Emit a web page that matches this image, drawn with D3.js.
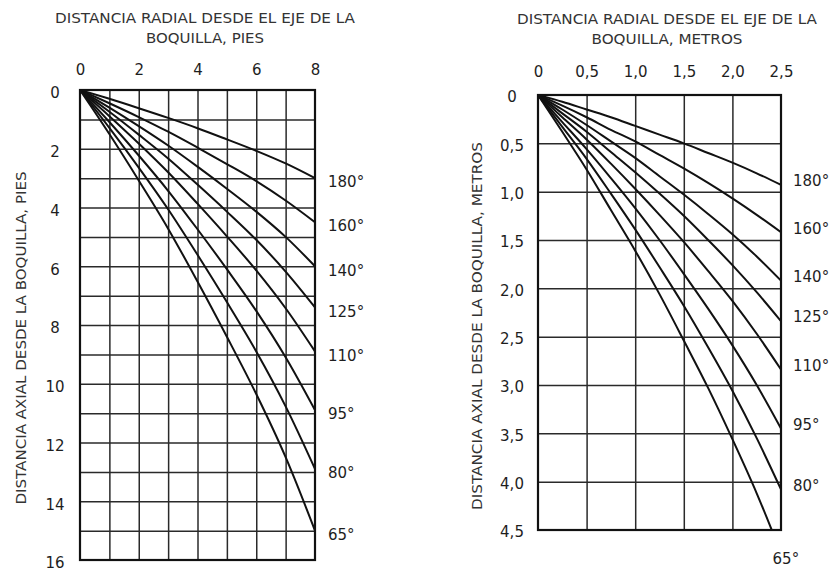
<!DOCTYPE html>
<html>
<head>
  <meta charset="utf-8">
  <title>Distancia radial / axial boquilla</title>
  <script src="https://cdn.jsdelivr.net/npm/d3@7"></script>
  <style>
    body { margin: 0; background: #ffffff; }
    svg { font-family: "DejaVu Sans", "Liberation Sans", sans-serif; }
    .title { fill: #333; font-size: 14px; text-anchor: middle; }
    .tick text { fill: #1e1e1e; font-size: 15px; }
    .angle { fill: #1e1e1e; font-size: 15px; }
    .grid line { stroke: #2a2a2a; stroke-width: 1.5; }
    .grid path { display: none; }
    .frame { fill: none; stroke: #111; stroke-width: 2.2; }
    .curve { fill: none; stroke: #111; stroke-width: 2; }
  </style>
</head>
<body>
<script>
// angles of the spray, same order for both charts
var angles = ["180°", "160°", "140°", "125°", "110°", "95°", "80°", "65°"];

// chart in feet: axial distance read at each radial foot
var ftRadial = [0, 1, 2, 3, 4, 5, 6, 7, 8];
var ft180 = [0, 0.30, 0.62, 0.95, 1.30, 1.68, 2.07, 2.50, 3.0];
var ft160 = [0, 0.45, 0.92, 1.42, 1.96, 2.52, 3.10, 3.76, 4.5];
var ft140 = [0, 0.60, 1.23, 1.89, 2.61, 3.36, 4.14, 5.00, 6.0];
var ft125 = [0, 0.74, 1.52, 2.33, 3.22, 4.14, 5.10, 6.18, 7.4];
var ft110 = [0, 0.89, 1.82, 2.80, 3.87, 4.98, 6.14, 7.43, 8.9];
var ft95  = [0, 1.09, 2.23, 3.43, 4.74, 6.10, 7.52, 9.10, 10.9];
var ft80  = [0, 1.29, 2.64, 4.06, 5.61, 7.22, 8.90, 10.77, 12.9];
var ft65  = [0, 1.50, 3.08, 4.72, 6.52, 8.40, 10.35, 12.50, 15.0];
var ftXTicks = [0, 2, 4, 6, 8];
var ftYTicks = [0, 2, 4, 6, 8, 10, 12, 14, 16];
var ftXGrid = [1, 2, 3, 4, 5, 6, 7];
var ftYGrid = [1, 2, 3, 4, 5, 6, 7, 8, 9, 10, 11, 12, 13, 14, 15];

// chart in metres
var mRadial = [0, 0.25, 0.5, 0.75, 1.0, 1.25, 1.5, 1.75, 2.0, 2.25, 2.5];
var m180 = [0, 0.07, 0.15, 0.23, 0.32, 0.41, 0.50, 0.60, 0.70, 0.81, 0.93];
var m160 = [0, 0.11, 0.23, 0.36, 0.48, 0.62, 0.76, 0.91, 1.07, 1.24, 1.42];
var m140 = [0, 0.15, 0.31, 0.48, 0.65, 0.84, 1.03, 1.23, 1.44, 1.67, 1.92];
var m125 = [0, 0.19, 0.38, 0.59, 0.80, 1.02, 1.25, 1.50, 1.76, 2.04, 2.34];
var m110 = [0, 0.23, 0.46, 0.71, 0.97, 1.24, 1.52, 1.82, 2.13, 2.47, 2.84];
var m95  = [0, 0.28, 0.56, 0.86, 1.17, 1.50, 1.85, 2.21, 2.59, 3.00, 3.45];
var m80  = [0, 0.33, 0.66, 1.02, 1.39, 1.78, 2.18, 2.61, 3.06, 3.55, 4.08];
var m65  = [0, 0.38, 0.77, 1.19, 1.61, 2.06, 2.54, 3.03, 3.56, 4.12, 4.74];
var mXTicks = [0, 0.5, 1.0, 1.5, 2.0, 2.5];
var mYTicks = [0, 0.5, 1.0, 1.5, 2.0, 2.5, 3.0, 3.5, 4.0, 4.5];
var mXGrid = [0.5, 1.0, 1.5, 2.0];
var mYGrid = [0.5, 1.0, 1.5, 2.0, 2.5, 3.0, 3.5, 4.0];

var svg = d3.select("body").append("svg")
    .attr("width", 834)
    .attr("height", 571);

function comma(d) {
  return d === 0 ? "0" : d3.format(".1f")(d).replace(".", ",");
}

function drawChart(opt) {
  var x = d3.scaleLinear().domain(opt.xDomain).range([opt.left, opt.right]);
  var y = d3.scaleLinear().domain(opt.yDomain).range([opt.top, opt.bottom]);
  var g = svg.append("g");

  // titles
  g.append("text").attr("class", "title")
      .attr("x", opt.titleX).attr("y", opt.titleY1)
      .attr("textLength", opt.titleW1).attr("lengthAdjust", "spacingAndGlyphs")
      .text("DISTANCIA RADIAL DESDE EL EJE DE LA");
  g.append("text").attr("class", "title")
      .attr("x", opt.titleX).attr("y", opt.titleY2)
      .attr("textLength", opt.titleW2).attr("lengthAdjust", "spacingAndGlyphs")
      .text(opt.title2);
  g.append("text").attr("class", "title")
      .attr("transform", "translate(" + opt.yTitleX + "," + opt.yTitleY + ") rotate(-90)")
      .attr("textLength", opt.yTitleW).attr("lengthAdjust", "spacingAndGlyphs")
      .attr("dy", "0.35em")
      .text(opt.yTitle);

  // grid
  g.append("g").attr("class", "grid")
      .attr("transform", "translate(0," + opt.bottom + ")")
      .call(d3.axisBottom(x).tickValues(opt.xGrid).tickSize(-(opt.bottom - opt.top)).tickFormat(""));
  g.append("g").attr("class", "grid")
      .attr("transform", "translate(" + opt.left + ",0)")
      .call(d3.axisLeft(y).tickValues(opt.yGrid).tickSize(-(opt.right - opt.left)).tickFormat(""));

  // tick labels
  var xa = g.append("g")
      .attr("transform", "translate(0," + opt.xLabelY + ")")
      .call(d3.axisTop(x).tickValues(opt.xTicks).tickSize(0).tickPadding(0).tickFormat(opt.fmt));
  xa.select(".domain").remove();
  xa.attr("font-family", null).attr("font-size", null);

  var ya = g.append("g")
      .attr("transform", "translate(" + opt.yLabelX + "," + opt.yLabelDy + ")")
      .call(d3.axisLeft(y).tickValues(opt.yTicks).tickSize(0).tickPadding(0).tickFormat(opt.fmt));
  ya.select(".domain").remove();
  ya.selectAll("text").attr("x", 0).attr("text-anchor", "middle");
  ya.attr("font-family", null).attr("font-size", null);

  // curves, clipped to the frame
  var clipId = "clip" + opt.id;
  svg.append("clipPath").attr("id", clipId).append("rect")
      .attr("x", opt.left).attr("y", opt.top)
      .attr("width", opt.right - opt.left).attr("height", opt.bottom - opt.top);

  var line = d3.line()
      .x(function(d) { return x(d[0]); })
      .y(function(d) { return y(d[1]); })
      .curve(d3.curveMonotoneX);

  var series = opt.series.map(function(vals, i) {
    return { angle: angles[i], pts: opt.radial.map(function(r, j) { return [r, vals[j]]; }) };
  });

  g.append("g").attr("clip-path", "url(#" + clipId + ")")
    .selectAll("path").data(series).enter().append("path")
      .attr("class", "curve")
      .attr("d", function(d) { return line(d.pts); });

  g.append("rect").attr("class", "frame")
      .attr("x", opt.left).attr("y", opt.top)
      .attr("width", opt.right - opt.left).attr("height", opt.bottom - opt.top);

  // angle labels at the end of each curve
  g.selectAll(".angle").data(series).enter().append("text")
      .attr("class", "angle")
      .attr("x", function(d) {
        var end = d.pts[d.pts.length - 1];
        if (end[1] > opt.yDomain[1]) {
          var prev = d.pts[d.pts.length - 2];
          var r = prev[0] + (opt.yDomain[1] - prev[1]) / (end[1] - prev[1]) * (end[0] - prev[0]);
          return x(r) + 1;
        }
        return opt.right + opt.labelGap;
      })
      .attr("y", function(d) {
        var end = d.pts[d.pts.length - 1];
        if (end[1] > opt.yDomain[1]) return opt.bottom + 29;
        return y(end[1]) + opt.labelDy;
      })
      .attr("dy", "0.35em")
      .text(function(d) { return d.angle; });
}

drawChart({
  id: "ft",
  xDomain: [0, 8], yDomain: [0, 16],
  left: 80, right: 315, top: 90, bottom: 560,
  xGrid: ftXGrid, yGrid: ftYGrid,
  xTicks: ftXTicks, yTicks: ftYTicks, fmt: d3.format("d"),
  radial: ftRadial,
  series: [ft180, ft160, ft140, ft125, ft110, ft95, ft80, ft65],
  title2: "BOQUILLA, PIES",
  titleX: 205, titleY1: 23, titleY2: 43, titleW1: 300, titleW2: 118,
  yTitle: "DISTANCIA AXIAL DESDE LA BOQUILLA, PIES",
  yTitleX: 21, yTitleY: 338, yTitleW: 333,
  xLabelY: 75, yLabelX: 55, yLabelDy: 3,
  labelGap: 13, labelDy: 4
});

drawChart({
  id: "m",
  xDomain: [0, 2.5], yDomain: [0, 4.5],
  left: 538, right: 781, top: 95, bottom: 530,
  xGrid: mXGrid, yGrid: mYGrid,
  xTicks: mXTicks, yTicks: mYTicks, fmt: comma,
  radial: mRadial,
  series: [m180, m160, m140, m125, m110, m95, m80, m65],
  title2: "BOQUILLA, METROS",
  titleX: 667, titleY1: 24, titleY2: 44, titleW1: 300, titleW2: 151,
  yTitle: "DISTANCIA AXIAL DESDE LA BOQUILLA, METROS",
  yTitleX: 477, yTitleY: 326, yTitleW: 368,
  xLabelY: 77, yLabelX: 512, yLabelDy: 2,
  labelGap: 12, labelDy: -4
});
</script>
</body>
</html>
